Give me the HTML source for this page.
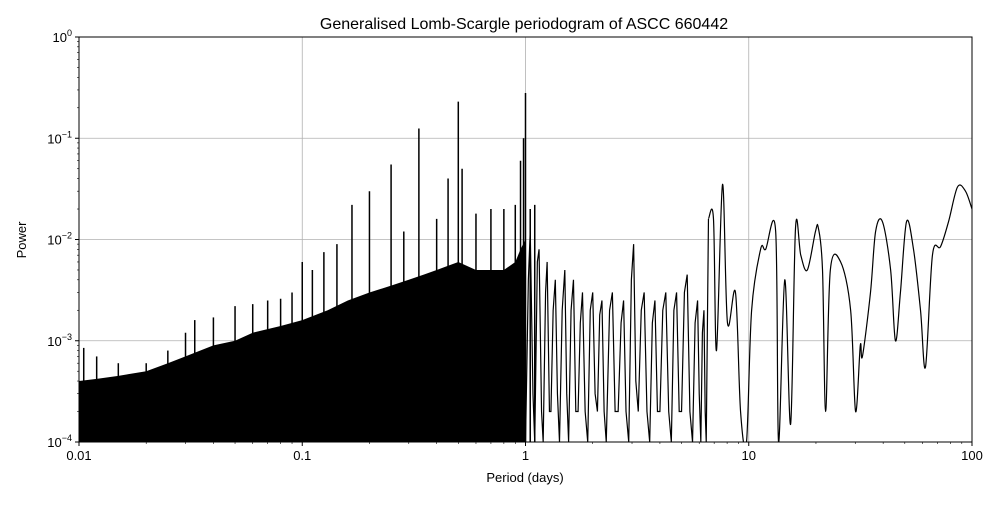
<!DOCTYPE html>
<html><head><meta charset="utf-8"><style>
body{margin:0;background:#fff;font-family:"Liberation Sans",sans-serif}
svg text{font-family:"Liberation Sans",sans-serif;fill:#000}
</style></head><body>
<svg id="chart" width="1000" height="500" xmlns="http://www.w3.org/2000/svg">
<defs><clipPath id="plotclip"><rect x="79" y="37" width="893" height="405"/></clipPath></defs>
<text x="524" y="29" font-size="16" text-anchor="middle">Generalised Lomb-Scargle periodogram of ASCC 660442</text>
<g id="grid"></g>
<g id="marks" clip-path="url(#plotclip)"></g>
<rect x="79" y="37" width="893" height="405" fill="none" stroke="#000" stroke-width="1"/>
<g id="axes"></g>
<text x="525" y="482" font-size="13" text-anchor="middle">Period (days)</text>
<text transform="translate(26,240) rotate(-90)" font-size="13" text-anchor="middle">Power</text>
</svg>
<script>
// ---- data ----
const xTicks=[0.01,0.1,1,10,100];
const xTickLabels=["0.01","0.1","1","10","100"];
const yTickExp=[-4,-3,-2,-1,0];
// upper envelope of the dense noise band
const envPeriods=[0.01,0.012,0.015,0.02,0.025,0.03,0.04,0.05,0.06,0.08,0.1,0.13,0.16,0.2,0.25,0.3,0.35,0.4,0.45,0.5,0.6,0.7,0.8,0.9,0.95,1.0];
const envPower=[0.0004,0.00042,0.00045,0.0005,0.0006,0.0007,0.0009,0.001,0.0012,0.0014,0.0016,0.002,0.0025,0.003,0.0035,0.004,0.0045,0.005,0.0055,0.006,0.005,0.005,0.005,0.006,0.008,0.01];
// prominent spikes
const spikePeriods=[0.0105,0.012,0.015,0.02,0.025,0.03,0.033,0.04,0.05,0.06,0.07,0.08,0.09,0.1,0.111,0.125,0.143,0.167,0.2,0.25,0.285,0.333,0.4,0.45,0.5,0.52,0.6,0.7,0.8,0.9,0.95,0.98,1.0,1.05,1.1];
const spikePower=[0.00085,0.0007,0.0006,0.0006,0.0008,0.0012,0.0016,0.0017,0.0022,0.0023,0.0025,0.0026,0.003,0.006,0.005,0.0075,0.009,0.022,0.03,0.055,0.012,0.125,0.016,0.04,0.23,0.05,0.018,0.02,0.02,0.022,0.06,0.1,0.28,0.02,0.022];
// oscillating mid region (1–6.6 days)
const midPeriods=[1.0,1.03,1.05,1.08,1.1,1.13,1.15,1.18,1.2,1.23,1.25,1.28,1.3,1.33,1.36,1.39,1.42,1.46,1.5,1.53,1.56,1.6,1.64,1.68,1.72,1.76,1.8,1.85,1.9,1.95,2.0,2.05,2.1,2.15,2.2,2.25,2.3,2.38,2.45,2.52,2.6,2.68,2.75,2.82,2.9,2.98,3.05,3.12,3.2,3.3,3.4,3.5,3.6,3.7,3.8,3.9,4.0,4.12,4.25,4.38,4.5,4.62,4.75,4.88,5.0,5.15,5.3,5.45,5.6,5.75,5.9,6.0,6.1,6.2,6.3,6.38,6.45,6.6];
const midPower=[0.0001,0.004,0.012,0.0003,0.0001,0.006,0.008,0.0002,0.0001,0.003,0.006,0.0002,0.0002,0.002,0.004,0.0003,0.0001,0.002,0.005,0.0003,0.0001,0.002,0.004,0.0002,0.0002,0.0015,0.003,0.0002,0.0001,0.002,0.003,0.0003,0.0002,0.0018,0.0025,0.0002,0.0001,0.002,0.003,0.0002,0.0002,0.0015,0.0025,0.0002,0.0001,0.004,0.009,0.0004,0.0002,0.002,0.003,0.0002,0.0001,0.0015,0.0025,0.0002,0.0002,0.002,0.003,0.0002,0.0001,0.002,0.003,0.0002,0.0002,0.003,0.0045,0.0002,0.0001,0.0015,0.0025,0.0003,0.0001,0.0012,0.002,0.0002,0.0001,0.016];
// smooth long-period tail
const tailPeriods=[6.6,6.95,7.17,7.63,8.03,8.72,9.19,9.77,10.3,11.3,11.9,13.2,13.6,14.5,15.4,16.2,17.1,18.3,19.9,20.5,21.4,22.1,23.2,25.8,28.6,30.1,31.6,32.3,35.1,37,39.7,43.2,45.4,47.8,50.9,54.7,58.8,61.9,66.5,72.3,78.5,86.1,93.5,100];
const tailPower=[0.016,0.016,0.0008,0.035,0.0015,0.003,0.0002,0.0001,0.002,0.008,0.008,0.012,0.0001,0.004,0.00015,0.013,0.007,0.005,0.012,0.013,0.005,0.0002,0.005,0.006,0.002,0.0002,0.0009,0.0007,0.003,0.012,0.015,0.005,0.001,0.003,0.015,0.008,0.002,0.00055,0.007,0.0085,0.015,0.033,0.03,0.02];
// ---- scales ----
const L=79,R=972,T=37,B=442;
const xs=p=>L+(Math.log10(p)+2)/4*(R-L);
const ys=v=>T+(-Math.log10(Math.max(v,1e-4)))/4*(B-T);
const NS="http://www.w3.org/2000/svg";
function mk(tag,parent){const e=document.createElementNS(NS,tag);parent.appendChild(e);return e;}
const grid=document.getElementById('grid'),axes=document.getElementById('axes'),marks=document.getElementById('marks');
xTicks.forEach((t,i)=>{
 const g=mk('line',grid);
 g.setAttribute('x1',xs(t));g.setAttribute('x2',xs(t));g.setAttribute('y1',T);g.setAttribute('y2',B);g.setAttribute('stroke','#b0b0b0');g.setAttribute('stroke-width','0.8');
 const tk=mk('line',axes);
 tk.setAttribute('x1',xs(t));tk.setAttribute('x2',xs(t));tk.setAttribute('y1',B);tk.setAttribute('y2',B+4);tk.setAttribute('stroke','#000');
 const tx=mk('text',axes);
 tx.setAttribute('x',xs(t));tx.setAttribute('y',B+18);tx.setAttribute('font-size','13');tx.setAttribute('text-anchor','middle');tx.textContent=xTickLabels[i];
 if(i<xTicks.length-1)for(let m=2;m<10;m++){const mt=mk('line',axes);
  mt.setAttribute('x1',xs(t*m));mt.setAttribute('x2',xs(t*m));mt.setAttribute('y1',B);mt.setAttribute('y2',B+2);mt.setAttribute('stroke','#000');mt.setAttribute('stroke-width','0.6');}
});
yTickExp.forEach((e,i)=>{
 const v=Math.pow(10,e);
 const g=mk('line',grid);
 g.setAttribute('x1',L);g.setAttribute('x2',R);g.setAttribute('y1',ys(v));g.setAttribute('y2',ys(v));g.setAttribute('stroke','#b0b0b0');g.setAttribute('stroke-width','0.8');
 const tk=mk('line',axes);
 tk.setAttribute('x1',L-4);tk.setAttribute('x2',L);tk.setAttribute('y1',ys(v));tk.setAttribute('y2',ys(v));tk.setAttribute('stroke','#000');
 const tx=mk('text',axes);
 tx.setAttribute('x',L-7);tx.setAttribute('y',ys(v)+5);tx.setAttribute('font-size','13');tx.setAttribute('text-anchor','end');
 tx.innerHTML=e===0?'10<tspan dy="-6" font-size="9">0</tspan>':'10<tspan dy="-6" font-size="9">\u2212'+(-e)+'</tspan>';
 if(i<yTickExp.length-1)for(let m=2;m<10;m++){const mt=mk('line',axes);
  mt.setAttribute('x1',L-2);mt.setAttribute('x2',L);mt.setAttribute('y1',ys(v*m));mt.setAttribute('y2',ys(v*m));mt.setAttribute('stroke','#000');mt.setAttribute('stroke-width','0.6');}
});
// dense band
let d='M'+xs(envPeriods[0])+','+B;
envPeriods.forEach((p,i)=>{d+=' L'+xs(p)+','+ys(envPower[i]);});
d+=' L'+xs(envPeriods[envPeriods.length-1])+','+B+' Z';
const band=mk('path',marks);
band.setAttribute('d',d);band.setAttribute('fill','#000');
// spikes
spikePeriods.forEach((p,i)=>{
 const s=mk('line',marks);
 s.setAttribute('x1',xs(p));s.setAttribute('x2',xs(p));s.setAttribute('y1',B);s.setAttribute('y2',ys(spikePower[i]));
 s.setAttribute('stroke','#000');s.setAttribute('stroke-width','1.5');
});
function poly(ps,vs,name){
 const pl=mk('polyline',marks);
 pl.setAttribute('points',ps.map((p,i)=>xs(p)+','+ys(vs[i])).join(' '));
 pl.setAttribute('fill','none');pl.setAttribute('stroke','#000');pl.setAttribute('stroke-width','1.2');
}
function smooth(ps,vs,name){
 const pts=ps.map((p,i)=>[xs(p),T+(-Math.log10(vs[i]))/4*(B-T)]);
 let dd='M'+pts[0][0]+','+pts[0][1];
 for(let i=0;i<pts.length-1;i++){
  const p0=pts[Math.max(i-1,0)],p1=pts[i],p2=pts[i+1],p3=pts[Math.min(i+2,pts.length-1)];
  const c1=[p1[0]+(p2[0]-p0[0])/6,p1[1]+(p2[1]-p0[1])/6],c2=[p2[0]-(p3[0]-p1[0])/6,p2[1]-(p3[1]-p1[1])/6];
  dd+=' C'+c1[0]+','+c1[1]+' '+c2[0]+','+c2[1]+' '+p2[0]+','+p2[1];
 }
 const pa=mk('path',marks);
 pa.setAttribute('d',dd);pa.setAttribute('fill','none');pa.setAttribute('stroke','#000');pa.setAttribute('stroke-width','1.2');
}
poly(midPeriods,midPower,'mid-period-line');
smooth(tailPeriods,tailPower,'long-period-line');
</script>
</body></html>
